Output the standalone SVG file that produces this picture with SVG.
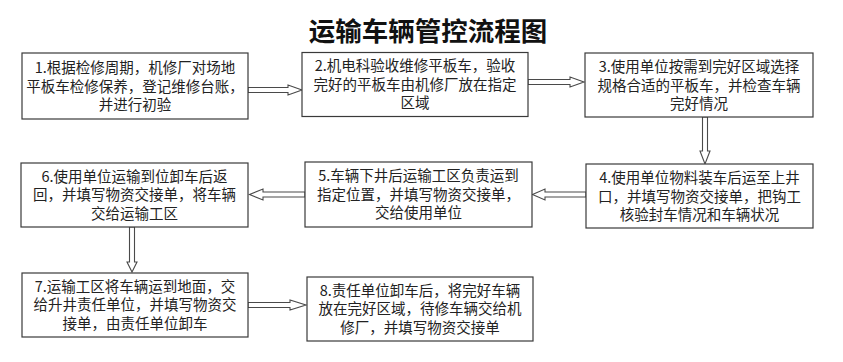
<svg xmlns="http://www.w3.org/2000/svg" width="843" height="362" viewBox="0 0 843 362">
<style>
.bg{fill:#ffffff}
.box{fill:#ffffff;stroke:#3a3a3a;stroke-width:1.2}
.t{font-family:"Noto Sans CJK SC","Noto Sans",sans-serif;font-size:14.5px;fill:#222;text-anchor:middle}
.title{font-family:"Noto Sans CJK SC","Noto Sans",sans-serif;font-size:26.5px;font-weight:bold;fill:#111;text-anchor:middle}
.arr{fill:#ffffff;stroke:#4a4a4a;stroke-width:1.1;stroke-linejoin:miter}
</style>
<rect class="bg" x="0" y="0" width="843" height="362"/>
<text class="title" x="428" y="40.5">运输车辆管控流程图</text>

<g id="connectors">
  <polygon class="arr" points="248,87.5 288,87.5 288,85 302,90 288,95 288,92.5 248,92.5"/>
  <polygon class="arr" points="528,79.5 570,79.5 570,77 584,82 570,87 570,84.5 528,84.5"/>
  <polygon class="arr" points="702.5,117 702.5,151 700,151 705,164 710,151 707.5,151 707.5,117"/>
  <polygon class="arr" points="586,192 545,192 545,189 532.5,194.5 545,200 545,197 586,197"/>
  <polygon class="arr" points="305,192 263,192 263,189 249.5,194.5 263,200 263,197 305,197"/>
  <polygon class="arr" points="129.5,227 129.5,262 127,262 132,272 137,262 134.5,262 134.5,227"/>
  <polygon class="arr" points="248,302.5 290,302.5 290,300 306,305 290,310 290,307.5 248,307.5"/>
</g>

<g id="node1">
  <rect class="box" x="22" y="53" width="226" height="66"/>
  <text class="t" x="135" y="73">1.根据检修周期，机修厂对场地</text>
  <text class="t" x="135" y="91.5">平板车检修保养，登记维修台账，</text>
  <text class="t" x="135" y="110">并进行初验</text>
</g>
<g id="node2">
  <rect class="box" x="302" y="52.5" width="226" height="64"/>
  <text class="t" x="415" y="71">2.机电科验收维修平板车，验收</text>
  <text class="t" x="415" y="89.5">完好的平板车由机修厂放在指定</text>
  <text class="t" x="415" y="108">区域</text>
</g>
<g id="node3">
  <rect class="box" x="585" y="53" width="228" height="64"/>
  <text class="t" x="699" y="72">3.使用单位按需到完好区域选择</text>
  <text class="t" x="699" y="90.5">规格合适的平板车，并检查车辆</text>
  <text class="t" x="699" y="109">完好情况</text>
</g>
<g id="node4">
  <rect class="box" x="586" y="164" width="227" height="64"/>
  <text class="t" x="699.5" y="183">4.使用单位物料装车后运至上井</text>
  <text class="t" x="699.5" y="201.5">口，并填写物资交接单，把钩工</text>
  <text class="t" x="699.5" y="220">核验封车情况和车辆状况</text>
</g>
<g id="node5">
  <rect class="box" x="305" y="162" width="227" height="65"/>
  <text class="t" x="418.5" y="181">5.车辆下井后运输工区负责运到</text>
  <text class="t" x="418.5" y="199.5">指定位置，并填写物资交接单，</text>
  <text class="t" x="418.5" y="218">交给使用单位</text>
</g>
<g id="node6">
  <rect class="box" x="21" y="163" width="227" height="64"/>
  <text class="t" x="134.5" y="181.5">6.使用单位运输到位卸车后返</text>
  <text class="t" x="134.5" y="200">回，并填写物资交接单，将车辆</text>
  <text class="t" x="134.5" y="218.5">交给运输工区</text>
</g>
<g id="node7">
  <rect class="box" x="22" y="273" width="226" height="64"/>
  <text class="t" x="135" y="291.5">7.运输工区将车辆运到地面，交</text>
  <text class="t" x="135" y="310">给升井责任单位，并填写物资交</text>
  <text class="t" x="135" y="328.5">接单，由责任单位卸车</text>
</g>
<g id="node8">
  <rect class="box" x="307" y="277" width="226" height="64"/>
  <text class="t" x="420" y="295.5">8.责任单位卸车后，将完好车辆</text>
  <text class="t" x="420" y="314">放在完好区域，待修车辆交给机</text>
  <text class="t" x="420" y="332.5">修厂，并填写物资交接单</text>
</g>
</svg>
